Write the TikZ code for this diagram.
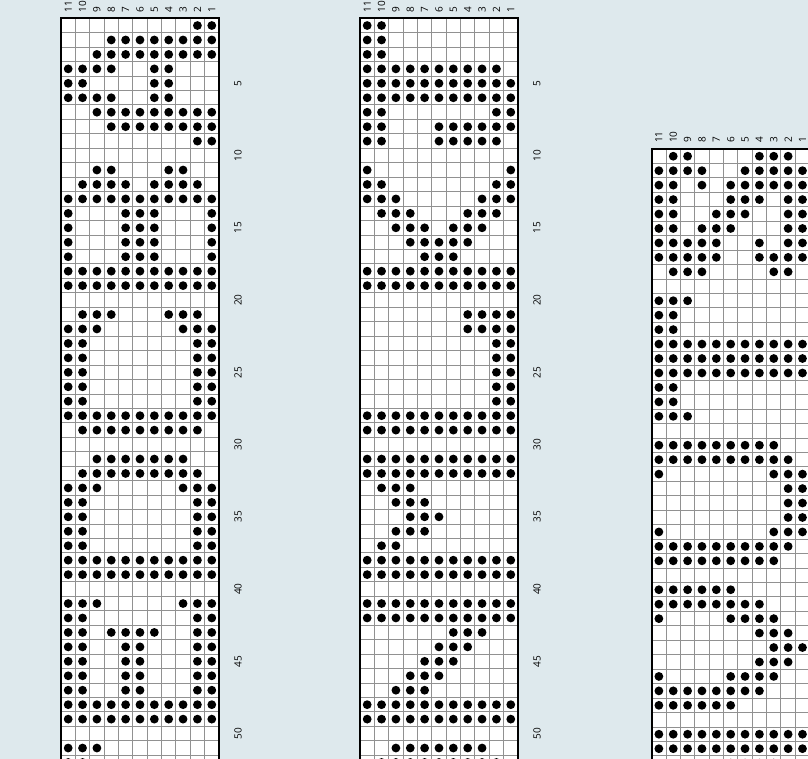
\documentclass[tikz,border=0pt]{standalone}
\usepackage{fontspec}
\setmainfont{Open Sans}
\definecolor{bgc}{RGB}{222,233,237}
\definecolor{gridc}{RGB}{145,145,145}
\def\cw{14.36}
\def\ch{14.45}
\tikzset{
  gridline/.style={draw=gridc, line width=1pt},
  frameline/.style={draw=black, line width=2.2pt},
  dotmark/.style={fill=black},
  collabel/.style={rotate=90, anchor=west, inner sep=0pt, font=\fontsize{10}{11}\selectfont},
  rowlabel/.style={rotate=90, anchor=center, inner sep=0pt, font=\fontsize{10}{11}\selectfont},
}
\newcommand\knitchart[5]{%
  \begin{scope}[shift={(#2,-#3)}]
    \fill[white] (0,0) rectangle (11*\cw,-56*\ch);
    \foreach \k in {1,...,10} \draw[gridline] (\k*\cw,0) -- (\k*\cw,-56*\ch);
    \foreach \r in {1,...,55} \draw[gridline] (0,-\r*\ch) -- (11*\cw,-\r*\ch);
    \foreach \r/\cs in {#4} {
      \foreach \i in \cs {
        \fill[dotmark] ({(\i-0.5)*\cw},{-(\r-0.5)*\ch}) circle[radius=4.4pt];
      }
    }
    \draw[frameline] (0,-56*\ch) -- (0,0) -- (11*\cw,0) -- (11*\cw,-56*\ch);
    \foreach \i in {1,...,11} {
      \pgfmathtruncatemacro\lab{12-\i}
      \node[collabel] (#1c\i) at ({(\i-0.5)*\cw},6) {\lab};
    }
    \foreach \r in {#5}
      \node[rowlabel] (#1r\r) at ({11*\cw+19},{-(\r-0.5)*\ch}) {\r};
  \end{scope}}
\begin{document}
\begin{tikzpicture}[x=1pt,y=1pt]
\useasboundingbox (0,0) rectangle (808,-759);
\fill[bgc] (0,0) rectangle (808,-759);
\clip (0,0) rectangle (808,-759);
\knitchart{L}{61}{18.3}{1/{10,11},2/{4,...,11},3/{3,...,11},4/{1,2,3,4,7,8},5/{1,2,7,8},6/{1,2,3,4,7,8},7/{3,...,11},8/{4,...,11},9/{10,11},11/{3,4,8,9},12/{2,3,4,5,7,8,9,10},13/{1,...,11},14/{1,5,6,7,11},15/{1,5,6,7,11},16/{1,5,6,7,11},17/{1,5,6,7,11},18/{1,...,11},19/{1,...,11},21/{2,3,4,8,9,10},22/{1,2,3,9,10,11},23/{1,2,10,11},24/{1,2,10,11},25/{1,2,10,11},26/{1,2,10,11},27/{1,2,10,11},28/{1,...,11},29/{2,...,10},31/{3,...,9},32/{2,...,10},33/{1,2,3,9,10,11},34/{1,2,10,11},35/{1,2,10,11},36/{1,2,10,11},37/{1,2,10,11},38/{1,...,11},39/{1,...,11},41/{1,2,3,9,10,11},42/{1,2,10,11},43/{1,2,4,5,6,7,10,11},44/{1,2,5,6,10,11},45/{1,2,5,6,10,11},46/{1,2,5,6,10,11},47/{1,2,5,6,10,11},48/{1,...,11},49/{1,...,11},51/{1,2,3},52/{1,2}}{5,10,...,50}
\knitchart{M}{360}{18.3}{1/{1,2},2/{1,2},3/{1,2},4/{1,...,10},5/{1,...,11},6/{1,...,11},7/{1,2,10,11},8/{1,2,6,7,8,9,10,11},9/{1,2,6,7,8,9,10},11/{1,11},12/{1,2,10,11},13/{1,2,3,9,10,11},14/{2,3,4,8,9,10},15/{3,4,5,7,8,9},16/{4,5,6,7,8},17/{5,6,7},18/{1,...,11},19/{1,...,11},21/{8,9,10,11},22/{8,9,10,11},23/{10,11},24/{10,11},25/{10,11},26/{10,11},27/{10,11},28/{1,...,11},29/{1,...,11},31/{1,...,11},32/{1,...,11},33/{2,3,4},34/{3,4,5},35/{4,5,6},36/{3,4,5},37/{2,3},38/{1,...,11},39/{1,...,11},41/{1,...,11},42/{1,...,11},43/{7,8,9},44/{6,7,8},45/{5,6,7},46/{4,5,6},47/{3,4,5},48/{1,...,11},49/{1,...,11},51/{3,...,9},52/{2,...,10}}{5,10,...,50}
\knitchart{R}{651.7}{149}{1/{2,3,8,9,10},2/{1,2,3,4,7,8,9,10,11},3/{1,2,4,6,7,8,9,10,11},4/{1,2,6,7,8,10,11},5/{1,2,5,6,7,10,11},6/{1,2,4,5,6,10,11},7/{1,2,3,4,5,8,10,11},8/{1,2,3,4,5,8,9,10,11},9/{2,3,4,9,10},11/{1,2,3},12/{1,2},13/{1,2},14/{1,...,11},15/{1,...,11},16/{1,...,11},17/{1,2},18/{1,2},19/{1,2,3},21/{1,...,9},22/{1,...,10},23/{1,9,10,11},24/{10,11},25/{10,11},26/{10,11},27/{1,9,10,11},28/{1,...,10},29/{1,...,9},31/{1,...,6},32/{1,...,8},33/{1,6,7,8,9},34/{8,9,10},35/{9,10,11},36/{8,9,10},37/{1,6,7,8,9},38/{1,...,8},39/{1,...,6},41/{1,...,11},42/{1,...,11},43/{6,7,8,9}}{}
\end{tikzpicture}
\end{document}
